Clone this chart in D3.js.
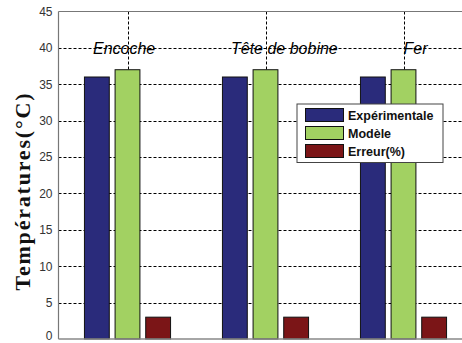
<!DOCTYPE html>
<html><head><meta charset="utf-8">
<script src="https://cdn.jsdelivr.net/npm/d3@7"></script>
<style>body{margin:0;background:#fff;}svg{display:block;}</style>
</head><body>
<svg id="c" width="462" height="343"></svg>
<script>
const categories = ["Encoche", "Tête de bobine", "Fer"];
const seriesNames = ["Expérimentale", "Modèle", "Erreur(%)"];
const experimentale = [36, 36, 36];
const modele = [37, 37, 37];
const erreur = [3, 3, 3];
const yTicks = [0, 5, 10, 15, 20, 25, 30, 35, 40, 45];
const labelPos = [0.75, 1.75, 3.0];
const colors = ["#2a2b7b", "#a2d162", "#7b1517"];

const series = [experimentale, modele, erreur];
const svg = d3.select("#c");
const x = d3.scaleLinear().domain([0.5, 3.5]).range([58.5, 472.5]);
const y = d3.scaleLinear().domain([0, 45]).range([339, 11.5]);

// horizontal grid
svg.append("g").selectAll("line").data(yTicks.filter(d => d > 0 && d < 45)).join("line")
  .attr("x1", x(0.5)).attr("x2", 462).attr("y1", d => Math.round(y(d)) + 0.5).attr("y2", d => Math.round(y(d)) + 0.5)
  .attr("stroke", "#000").attr("stroke-width", 1).attr("stroke-dasharray", "3,2");
// vertical grid at categories
svg.append("g").selectAll("line").data([1, 2, 3]).join("line")
  .attr("x1", d => Math.round(x(d)) + 0.5).attr("x2", d => Math.round(x(d)) + 0.5)
  .attr("y1", y(45)).attr("y2", y(0))
  .attr("stroke", "#000").attr("stroke-width", 1).attr("stroke-dasharray", "3,2");

// bars
const off = [-0.222, 0, 0.222];
const bw = 0.18;
series.forEach((s, i) => {
  svg.append("g").selectAll("rect").data(s).join("rect")
    .attr("x", (d, j) => x(j + 1 + off[i] - bw / 2))
    .attr("width", x(bw) - x(0))
    .attr("y", d => y(d))
    .attr("height", d => y(0) - y(d))
    .attr("fill", colors[i]).attr("stroke", "#111").attr("stroke-width", 1);
});

// axes box lines
svg.append("line").attr("x1", 58.5).attr("x2", 58.5).attr("y1", y(45)).attr("y2", y(0)).attr("stroke", "#777").attr("stroke-width", 1.2);
svg.append("line").attr("x1", 58.5).attr("x2", 462).attr("y1", y(45)).attr("y2", y(45)).attr("stroke", "#777").attr("stroke-width", 1.2);
svg.append("line").attr("x1", 58.5).attr("x2", 462).attr("y1", y(0)).attr("y2", y(0)).attr("stroke", "#888").attr("stroke-width", 1.5);

// y axis tick labels
const yAxis = d3.axisLeft(y).tickValues(yTicks).tickSize(0).tickPadding(6);
const ga = svg.append("g").attr("transform", "translate(58.5,0)").call(yAxis);
ga.select(".domain").remove();
ga.selectAll("text").attr("font-family", "Liberation Sans, Arial, sans-serif").attr("font-size", 12).attr("fill", "#333");
ga.selectAll("text").filter(d => d === 0).attr("dy", "0.05em");

// category labels
svg.append("g").selectAll("text").data(categories).join("text")
  .attr("x", (d, i) => x(labelPos[i])).attr("y", y(40) + 6)
  .attr("font-family", "Liberation Sans, Arial, sans-serif").attr("font-style", "italic")
  .attr("font-size", 16).attr("fill", "#000").text(d => d);

// y label
svg.append("text").attr("transform", "translate(30,192) rotate(-90)")
  .attr("text-anchor", "middle").attr("font-family", "Liberation Serif, Times New Roman, serif")
  .attr("font-weight", "bold").attr("font-size", 22).attr("fill", "#111")
  .attr("textLength", 197).attr("lengthAdjust", "spacing").text("Températures(°C)");

// legend
const lg = svg.append("g");
lg.append("rect").attr("x", 297).attr("y", 104).attr("width", 146).attr("height", 58.5)
  .attr("fill", "#fff").attr("stroke", "#444").attr("stroke-width", 1);
seriesNames.forEach((n, i) => {
  const cy = 115 + i * 18;
  lg.append("rect").attr("x", 305.5).attr("y", cy - 6.5).attr("width", 38).attr("height", 13)
    .attr("fill", colors[i]).attr("stroke", "#111").attr("stroke-width", 1);
  lg.append("text").attr("x", 348).attr("y", cy + 4.5)
    .attr("font-family", "Liberation Sans, Arial, sans-serif").attr("font-weight", "bold")
    .attr("font-size", 12.5).attr("fill", "#111").text(n);
});
</script>
</body></html>
